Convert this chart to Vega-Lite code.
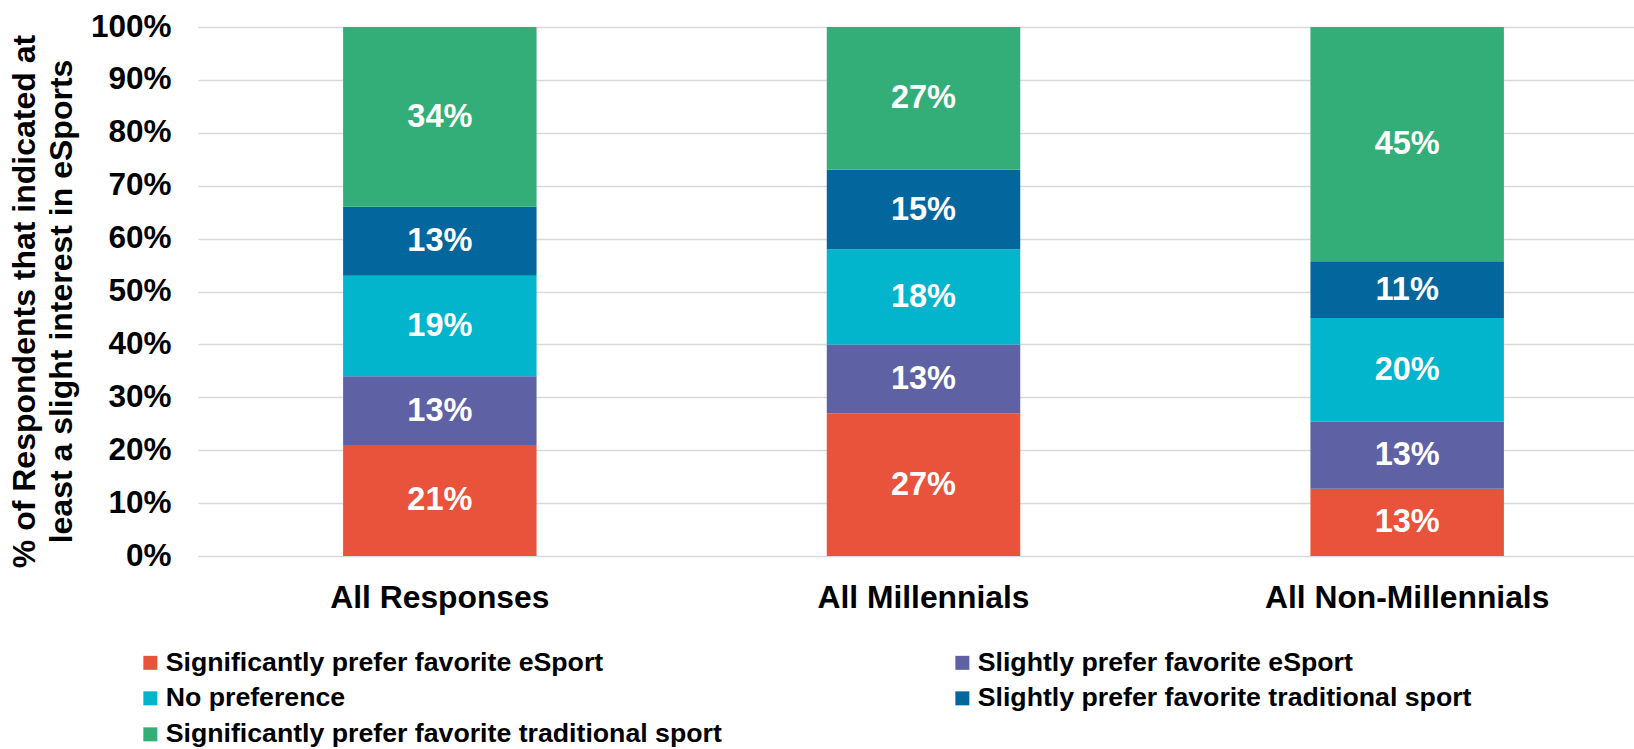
{
  "$schema": "https://vega.github.io/schema/vega-lite/v6.json",
  "autosize": {"type": "none"},
  "padding": {"left": 198, "top": 27, "right": 0, "bottom": 193},
  "width": 1436,
  "height": 529,
  "background": "white",
  "config": {
    "view": {"stroke": null},
    "font": "Liberation Sans"
  },
  "data": {
    "values": [
      {"group": "All Responses", "pref": "Significantly prefer favorite eSport", "rank": 1, "value": 0.21, "label": "21%"},
      {"group": "All Responses", "pref": "Slightly prefer favorite eSport", "rank": 2, "value": 0.13, "label": "13%"},
      {"group": "All Responses", "pref": "No preference", "rank": 3, "value": 0.19, "label": "19%"},
      {"group": "All Responses", "pref": "Slightly prefer favorite traditional sport", "rank": 4, "value": 0.13, "label": "13%"},
      {"group": "All Responses", "pref": "Significantly prefer favorite traditional sport", "rank": 5, "value": 0.34, "label": "34%"},
      {"group": "All Millennials", "pref": "Significantly prefer favorite eSport", "rank": 1, "value": 0.27, "label": "27%"},
      {"group": "All Millennials", "pref": "Slightly prefer favorite eSport", "rank": 2, "value": 0.13, "label": "13%"},
      {"group": "All Millennials", "pref": "No preference", "rank": 3, "value": 0.18, "label": "18%"},
      {"group": "All Millennials", "pref": "Slightly prefer favorite traditional sport", "rank": 4, "value": 0.15, "label": "15%"},
      {"group": "All Millennials", "pref": "Significantly prefer favorite traditional sport", "rank": 5, "value": 0.27, "label": "27%"},
      {"group": "All Non-Millennials", "pref": "Significantly prefer favorite eSport", "rank": 1, "value": 0.127, "label": "13%"},
      {"group": "All Non-Millennials", "pref": "Slightly prefer favorite eSport", "rank": 2, "value": 0.127, "label": "13%"},
      {"group": "All Non-Millennials", "pref": "No preference", "rank": 3, "value": 0.196, "label": "20%"},
      {"group": "All Non-Millennials", "pref": "Slightly prefer favorite traditional sport", "rank": 4, "value": 0.107, "label": "11%"},
      {"group": "All Non-Millennials", "pref": "Significantly prefer favorite traditional sport", "rank": 5, "value": 0.443, "label": "45%"}
    ]
  },
  "encoding": {
    "x": {
      "field": "group", "type": "nominal", "sort": null,
      "scale": {"paddingInner": 0.6, "paddingOuter": 0.3, "range": [0, 1451]},
      "axis": {
        "title": null, "labelAngle": 0, "domain": false, "ticks": false,
        "labelFont": "Liberation Sans", "labelFontWeight": "bold", "labelFontSize": 31.8,
        "labelColor": "black", "labelPadding": 26, "labelLimit": 600
      }
    }
  },
  "layer": [
    {
      "mark": {"type": "bar"},
      "encoding": {
        "y": {
          "field": "value", "type": "quantitative", "stack": "zero",
          "scale": {"domain": [0, 1]},
          "axis": {
            "format": ".0%", "values": [0,0.1,0.2,0.3,0.4,0.5,0.6,0.7,0.8,0.9,1],
            "labelOverlap": false,
            "domain": false, "ticks": false,
            "grid": true, "gridColor": "#d9d9d9", "gridWidth": 1.5,
            "labelFont": "Liberation Sans", "labelFontWeight": "bold", "labelFontSize": 31.5,
            "labelColor": "black", "labelPadding": 27,
            "title": ["% of Respondents that indicated at", "least a slight interest in eSports"],
            "titleFont": "Liberation Sans", "titleFontWeight": "bold", "titleFontSize": 32,
            "titleColor": "black", "titleLineHeight": 37, "titleAngle": -90,
            "titleX": -174, "titleY": 274, "titleBaseline": "middle"
          }
        },
        "color": {
          "field": "pref", "type": "nominal",
          "scale": {
            "domain": [
              "Significantly prefer favorite eSport",
              "Slightly prefer favorite eSport",
              "No preference",
              "Slightly prefer favorite traditional sport",
              "Significantly prefer favorite traditional sport"
            ],
            "range": ["#E9533B", "#5E62A5", "#02B4CC", "#03679D", "#33AE78"]
          },
          "legend": {
            "title": null, "orient": "none", "legendX": -61, "legendY": 622,
            "direction": "horizontal",
            "columns": 2, "columnPadding": 227, "rowPadding": 8,
            "symbolType": "square", "symbolSize": 196, "symbolStrokeWidth": 0,
            "labelFont": "Liberation Sans", "labelFontWeight": "bold", "labelFontSize": 26.7,
            "labelColor": "black", "labelOffset": 2, "labelLimit": 800
          }
        },
        "order": {"field": "rank", "type": "quantitative"}
      }
    },
    {
      "mark": {"type": "text", "color": "white", "font": "Liberation Sans", "fontWeight": "bold", "fontSize": 32.5, "baseline": "middle"},
      "encoding": {
        "y": {"field": "value", "type": "quantitative", "stack": "zero", "bandPosition": 0.5},
        "detail": {"field": "pref"},
        "text": {"field": "label"},
        "order": {"field": "rank", "type": "quantitative"}
      }
    }
  ]
}
